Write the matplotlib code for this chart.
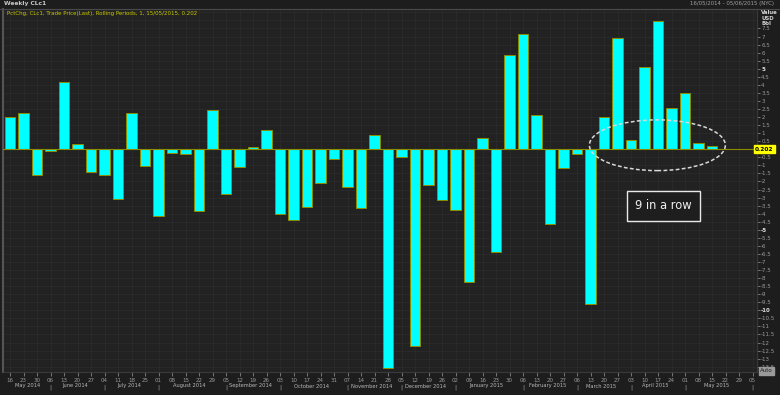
import numpy as np
import pandas as pd
import matplotlib
matplotlib.use("Agg")
import matplotlib.pyplot as plt
from matplotlib.patches import Ellipse
import matplotlib.transforms as mtransforms

# weekly % change of CLc1, week ending 16/05/2014 .. 15/05/2015
pct_chg = [2.03, 2.28, -1.57, -0.08, 4.16, 0.33, -1.43, -1.61, -3.10, 2.28,
           -1.01, -4.16, -0.25, -0.31, -3.81, 2.46, -2.80, -1.10, 0.14, 1.22,
           -4.04, -4.37, -3.58, -2.11, -0.58, -2.34, -3.62, 0.91, -13.56, -0.46,
           -12.22, -2.24, -3.17, -3.75, -8.24, 0.68, -6.38, 5.84, 7.16, 2.11,
           -4.62, -1.14, -0.31, -9.63, 1.99, 6.89, 0.58, 5.11, 7.95, 2.55,
           3.52, 0.41, 0.202]
tick_dates = pd.date_range("2014-05-16", periods=56, freq="7D")
last_value = "0.202"
title = "Weekly CLc1"
subtitle = "PctChg, CLc1, Trade Price(Last), Rolling Periods, 1, 15/05/2015, 0.202"
date_range_txt = "16/05/2014 - 05/06/2015 (NYC)"
note = "9 in a row"

W, H = 780, 395
def fx(px): return px / W
def fy(py): return 1 - py / H

bg = "#1d1d1d"
fig = plt.figure(figsize=(7.8, 3.95), dpi=100, facecolor=bg)
ax = fig.add_axes([fx(3), fy(372), fx(757) - fx(3), fy(9) - fy(372)], facecolor="#222222")

x = np.arange(len(pct_chg))
ax.bar(x, pct_chg, width=0.76, color="#00ffff", edgecolor="#8c8c00", linewidth=0.7, zorder=3)
ax.axhline(0, color="#8c8c00", lw=0.8, zorder=4)

ax.set_xlim(-0.52, 55.33)
ax.set_ylim(-13.83, 8.71)

# grid
for v in np.arange(-13.5, 8.6, 0.5):
    ax.axhline(v, color="#2b2b2b", lw=0.6, zorder=1)
for i in range(len(tick_dates)):
    ax.axvline(i, color="#2b2b2b", lw=0.6, zorder=1)

for s in ax.spines.values():
    s.set_color("#3a3a3a")
    s.set_linewidth(0.8)
ax.spines["left"].set_color("#555555")
ax.spines["left"].set_linewidth(1.5)

# right value axis
yt = np.arange(-13.5, 7.6, 0.5)
ax.yaxis.tick_right()
ax.set_yticks(yt)
labs = []
for v in yt:
    labs.append("" if abs(v) < 1e-9 else ("%g" % v))
ax.set_yticklabels(labs)
ax.tick_params(axis="y", colors="#9a9a9a", labelsize=4.0, length=2, width=0.5, pad=1)
for v, t in zip(yt, ax.get_yticklabels()):
    if v in (5, -5, -10):
        t.set_fontweight("bold")
        t.set_color("#e0e0e0")

# bottom date axis
ax.set_xticks(np.arange(len(tick_dates)))
ax.set_xticklabels([d.strftime("%d") for d in tick_dates])
ax.tick_params(axis="x", colors="#9a9a9a", labelsize=4.0, length=3, width=0.5, pad=1)

trans = mtransforms.blended_transform_factory(ax.transData, fig.transFigure)
months = [d.to_period("M") for d in tick_dates]
firsts = [0] + [i for i in range(1, len(months)) if months[i] != months[i - 1]]
for k, i in enumerate(firsts):
    if i > 0:
        ax.text(i, fy(387.5), "|", transform=trans, color="#9a9a9a", fontsize=4.5,
                ha="center", va="center")
    if k + 1 < len(firsts):
        mid = (i + firsts[k + 1]) / 2 - 0.2
        ax.text(mid, fy(386), tick_dates[i].strftime("%B %Y"), transform=trans,
                color="#b8b8b8", fontsize=3.7, ha="center", va="center")

# annotation
ax.add_patch(Ellipse((47.95, 0.25), 10.07, 3.15, fill=False, ec="#d8d8d8",
                     lw=1.1, ls=(0, (2.5, 1.5)), zorder=6))
ax.text(48.4, -3.52, note, color="#f0f0f0", fontsize=8.3, ha="center", va="center",
        zorder=7, bbox=dict(boxstyle="square,pad=0.7", fc="#1e1e1e", ec="#e8e8e8", lw=1))

# value label on the zero line
fig.text(fx(755), fy(149.3), last_value, color="black", fontsize=4.2, fontweight="bold",
         ha="left", va="center",
         bbox=dict(boxstyle="square,pad=0.25", fc="#ffff00", ec="#ffff00"))
fig.text(fx(760), fy(371), "Auto", color="#202020", fontsize=4, ha="left", va="center",
         bbox=dict(boxstyle="square,pad=0.2", fc="#9a9a9a", ec="#9a9a9a"))

# header
fig.add_artist(plt.Line2D([0, 1], [fy(8.5), fy(8.5)], color="#4a4a4a", lw=0.8))
fig.text(fx(4), fy(4), title, color="#c8c8c8", fontsize=4.3, fontweight="bold", va="center")
fig.text(fx(774), fy(4), date_range_txt, color="#a0a0a0", fontsize=3.9, ha="right", va="center")
fig.text(fx(7), fy(13.5), subtitle, color="#c8c800", fontsize=4.0, va="center")
for lab, py in (("Value", 12), ("USD", 18), ("Bbl", 23.5)):
    fig.text(fx(761), fy(py), lab, color="#d0d0d0", fontsize=3.9, fontweight="bold", va="center")

fig.savefig("out.png", dpi=100, facecolor=bg)
